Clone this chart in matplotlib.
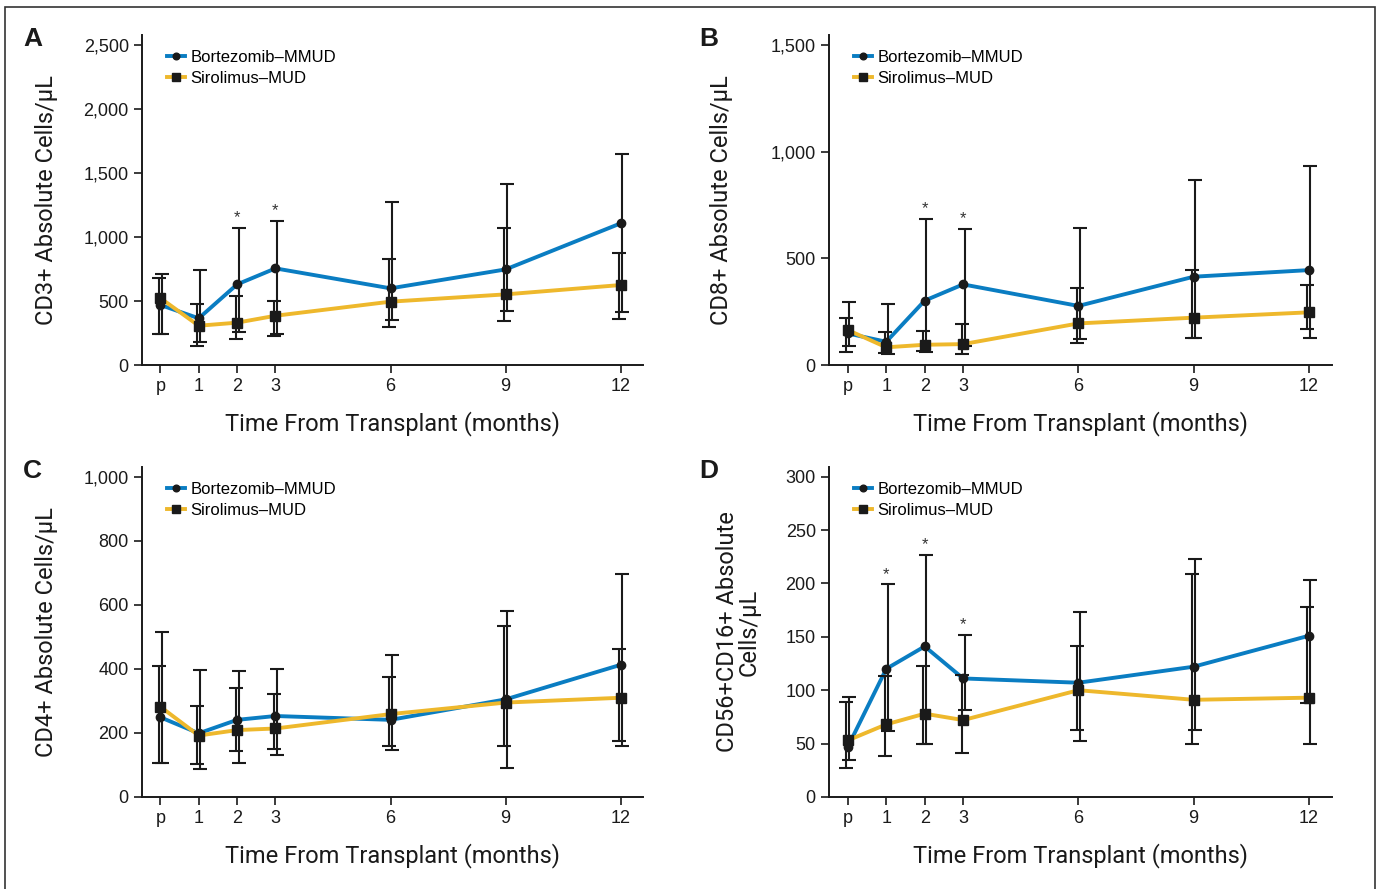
import numpy as np
import matplotlib
matplotlib.use("Agg")
import matplotlib.pyplot as plt
from matplotlib.ticker import StrMethodFormatter
from matplotlib.patches import Rectangle

months = [0, 1, 2, 3, 6, 9, 12]
month_labels = ['p', '1', '2', '3', '6', '9', '12']

# CD3+
cd3_bort = [469, 365, 630, 755, 599, 747, 1107]
cd3_bort_lo = [242, 182, 258, 242, 352, 422, 411]
cd3_bort_hi = [711, 742, 1073, 1123, 1271, 1417, 1646]
cd3_siro = [523, 307, 331, 385, 495, 552, 625]
cd3_siro_lo = [242, 148, 206, 227, 300, 346, 357]
cd3_siro_hi = [680, 477, 542, 503, 828, 1068, 877]

# CD8+
cd8_bort = [148, 109, 302, 378, 277, 414, 445]
cd8_bort_lo = [89, 52, 62, 89, 122, 125, 125]
cd8_bort_hi = [294, 284, 686, 638, 642, 866, 933]
cd8_siro = [164, 83, 95, 98, 195, 222, 247]
cd8_siro_lo = [62, 55, 67, 52, 102, 125, 167]
cd8_siro_hi = [222, 156, 161, 191, 359, 445, 373]

# CD4+
cd4_bort = [249, 199, 241, 253, 241, 305, 413]
cd4_bort_lo = [107, 88, 107, 130, 147, 91, 159]
cd4_bort_hi = [517, 396, 394, 400, 444, 581, 698]
cd4_siro = [282, 192, 209, 214, 259, 295, 310]
cd4_siro_lo = [107, 103, 145, 149, 160, 160, 176]
cd4_siro_hi = [409, 284, 340, 322, 374, 534, 462]

# CD56+CD16+
nk_bort = [47, 120, 141, 111, 107, 122, 151]
nk_bort_lo = [35, 62, 50, 81, 52, 63, 50]
nk_bort_hi = [94, 199, 227, 152, 173, 223, 203]
nk_siro = [53, 68, 78, 72, 100, 91, 93]
nk_siro_lo = [27, 38, 50, 41, 63, 50, 88]
nk_siro_hi = [89, 113, 123, 114, 141, 209, 178]

stars_a = [2, 3]
stars_b = [2, 3]
stars_d = [1, 2, 3]

BLUE = '#0a7dc2'
YELLOW = '#eeb82c'
narrow = ['Liberation Sans Narrow', 'Roboto', 'DejaVu Sans']

plt.rcParams['font.family'] = ['Liberation Sans', 'DejaVu Sans']

fig = plt.figure(figsize=(13.81, 8.89), dpi=100)
fig.patches.append(Rectangle((5 / 1381, -0.01), 1370 / 1381, 1 - 7 / 889 + 0.01,
                             transform=fig.transFigure, fill=False,
                             edgecolor='#333333', linewidth=1.2))


def panel(rect, xlim, ylim, yticks, bort, bort_lo, bort_hi, siro, siro_lo, siro_hi,
          ylabel, ylabel_x, stars):
    ax = fig.add_axes(rect)
    x = np.array(months, dtype=float)
    bort = np.array(bort)
    siro = np.array(siro)
    ax.plot(x, bort, '-', color=BLUE, lw=2.8, marker='o', ms=6, mfc='#1a1a1a',
            mec='#1a1a1a', zorder=3, label='Bortezomib–MMUD')
    ax.plot(x, siro, '-', color=YELLOW, lw=2.8, marker='s', ms=7, mfc='#1a1a1a',
            mec='#1a1a1a', zorder=3, label='Sirolimus–MUD')
    ax.errorbar(x + 0.04, bort, yerr=[bort - np.array(bort_lo), np.array(bort_hi) - bort],
                fmt='none', ecolor='#1a1a1a', elinewidth=1.5, capsize=4.7, capthick=1.5,
                zorder=4)
    ax.errorbar(x - 0.04, siro, yerr=[siro - np.array(siro_lo), np.array(siro_hi) - siro],
                fmt='none', ecolor='#1a1a1a', elinewidth=1.5, capsize=4.7, capthick=1.5,
                zorder=4)
    for m in stars:
        i = months.index(m)
        ax.annotate('*', (m, bort_hi[i]), xytext=(0, 2), textcoords='offset points',
                    ha='center', va='bottom', fontsize=12, color='#333333')
    ax.set_xlim(*xlim)
    ax.set_ylim(*ylim)
    ax.set_xticks(months)
    ax.set_xticklabels(month_labels)
    ax.set_yticks(yticks)
    ax.yaxis.set_major_formatter(StrMethodFormatter('{x:,.0f}'))
    for s in ['top', 'right']:
        ax.spines[s].set_visible(False)
    for s in ['left', 'bottom']:
        ax.spines[s].set_linewidth(1.4)
        ax.spines[s].set_color('#1a1a1a')
    ax.tick_params(axis='both', length=6, width=1.2, labelsize=13, colors='#1a1a1a',
                   pad=3.5)
    ax.set_xlabel('Time From Transplant (months)', fontsize=17, family=narrow,
                  color='#1a1a1a')
    ax.xaxis.set_label_coords(0.5, -0.14)
    ax.set_ylabel(ylabel, fontsize=17, family=narrow, color='#1a1a1a',
                  linespacing=0.95)
    ax.yaxis.set_label_coords(ylabel_x, 0.5)
    ax.legend(loc='upper left', bbox_to_anchor=(0.05, 0.955), frameon=False,
              fontsize=12, handlelength=1.05, handletextpad=0.35, labelspacing=0.35,
              borderpad=0, borderaxespad=0, numpoints=1, markerscale=0.8)
    return ax


panel([0.1028, 0.5894, 0.3628, 0.3712], (-0.48, 12.58), (0, 2578),
      [0, 500, 1000, 1500, 2000, 2500], cd3_bort, cd3_bort_lo, cd3_bort_hi,
      cd3_siro, cd3_siro_lo, cd3_siro_hi, 'CD3+ Absolute Cells/µL', -0.168, stars_a)
panel([0.6003, 0.5894, 0.3642, 0.3712], (-0.49, 12.6), (0, 1547),
      [0, 500, 1000, 1500], cd8_bort, cd8_bort_lo, cd8_bort_hi,
      cd8_siro, cd8_siro_lo, cd8_siro_hi, 'CD8+ Absolute Cells/µL', -0.19, stars_b)
panel([0.1028, 0.1035, 0.3628, 0.3712], (-0.48, 12.58), (0, 1031),
      [0, 200, 400, 600, 800, 1000], cd4_bort, cd4_bort_lo, cd4_bort_hi,
      cd4_siro, cd4_siro_lo, cd4_siro_hi, 'CD4+ Absolute Cells/µL', -0.168, [])
panel([0.6003, 0.1035, 0.3642, 0.3712], (-0.49, 12.6), (0, 309),
      [0, 50, 100, 150, 200, 250, 300], nk_bort, nk_bort_lo, nk_bort_hi,
      nk_siro, nk_siro_lo, nk_siro_hi, 'CD56+CD16+ Absolute\nCells/µL', -0.135, stars_d)

for lab, px, py in [('A', 23, 46), ('B', 699, 46), ('C', 23, 478), ('D', 699, 478)]:
    fig.text(px / 1381, 1 - py / 889, lab, fontsize=19, fontweight='bold',
             ha='left', va='baseline', color='#1a1a1a')

fig.savefig('out.png', dpi=100)
